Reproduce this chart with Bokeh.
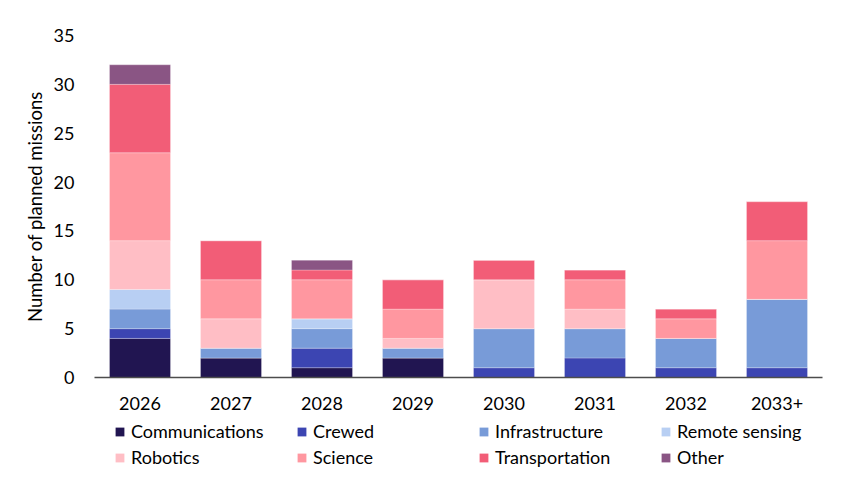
from bokeh.plotting import figure
from bokeh.layouts import column
from bokeh.models import ColumnDataSource, Legend, FixedTicker, Range1d
from bokeh.embed import file_html
from bokeh.resources import INLINE

years = ["2026", "2027", "2028", "2029", "2030", "2031", "2032", "2033+"]
categories = ["Communications", "Crewed", "Infrastructure", "Remote sensing",
              "Robotics", "Science", "Transportation", "Other"]
communications = [4, 2, 1, 2, 0, 0, 0, 0]
crewed         = [1, 0, 2, 0, 1, 2, 1, 1]
infrastructure = [2, 1, 2, 1, 4, 3, 3, 7]
remote_sensing = [2, 0, 1, 0, 0, 0, 0, 0]
robotics       = [5, 3, 0, 1, 5, 2, 0, 0]
science        = [9, 4, 4, 3, 0, 3, 2, 6]
transportation = [7, 4, 1, 3, 2, 1, 1, 4]
other          = [2, 0, 1, 0, 0, 0, 0, 0]
y_ticks = [0, 5, 10, 15, 20, 25, 30, 35]

colors = ["#211551", "#3C45B2", "#789BD8", "#B8CFF3",
          "#FFBEC5", "#FF97A0", "#F25D77", "#8A5584"]

data = {"years": years}
for name, vals in zip(categories, [communications, crewed, infrastructure, remote_sensing,
                                   robotics, science, transportation, other]):
    data[name] = vals
source = ColumnDataSource(data)

FONT = "Lato"

p = figure(x_range=years, y_range=Range1d(0, 35), width=828, height=417,
           output_backend="svg", toolbar_location=None,
           min_border_left=94, min_border_top=35, min_border_right=6,
           min_border_bottom=40)
p.x_range.range_padding = 0

renderers = p.vbar_stack(categories, x="years", width=0.67, source=source,
                         color=colors, line_color="white", line_width=0.5,
                         line_alpha=0.5)

p.outline_line_color = None
p.grid.visible = False
p.background_fill_color = "white"

p.xaxis.axis_line_color = "#4d4d4d"
p.xaxis.axis_line_width = 1.5
p.xaxis.major_tick_line_color = None
p.xaxis.minor_tick_line_color = None
p.xaxis.major_label_standoff = 13
p.xaxis.major_label_text_font = FONT
p.xaxis.major_label_text_font_size = "18px"
p.xaxis.major_label_text_color = "#000000"

p.yaxis.ticker = FixedTicker(ticks=y_ticks)
p.yaxis.axis_line_color = None
p.yaxis.major_tick_line_color = None
p.yaxis.minor_tick_line_color = None
p.yaxis.major_label_standoff = 14
p.yaxis.major_label_text_font = FONT
p.yaxis.major_label_text_font_size = "18px"
p.yaxis.major_label_text_color = "#000000"
p.yaxis.axis_label = "Number of planned missions"
p.yaxis.axis_label_text_font = FONT
p.yaxis.axis_label_text_font_size = "18.5px"
p.yaxis.axis_label_text_font_style = "normal"
p.yaxis.axis_label_text_color = "#000000"
p.yaxis.axis_label_standoff = 5

# legend panel beneath the chart (swatch renderers sit outside the visible range)
lf = figure(width=828, height=57, x_range=Range1d(0, 1), y_range=Range1d(0, 1),
            output_backend="svg", toolbar_location=None,
            min_border_left=94, min_border_top=0, min_border_right=6,
            min_border_bottom=0)
lf.axis.visible = False
lf.grid.visible = False
lf.outline_line_color = None
lf.background_fill_color = "white"
swatches = [lf.vbar(x=[-5], top=[-5], bottom=[-6], width=0.5, fill_color=c, line_color=None)
            for c in colors]

legend = Legend(items=[(c, [r]) for c, r in zip(categories, swatches)],
                orientation="horizontal", ncols=4, location=(20, 6))
legend.glyph_width = 11
legend.glyph_height = 11
legend.label_height = 20
legend.label_width = 161
legend.label_standoff = 6
legend.spacing = 4
legend.padding = 0
legend.margin = 0
legend.border_line_color = None
legend.background_fill_alpha = 0
legend.label_text_font = FONT
legend.label_text_font_size = "18px"
legend.label_text_color = "#000000"
lf.add_layout(legend, "center")

layout = column(p, lf, spacing=0)
open("out.html", "w").write(file_html(layout, INLINE))
